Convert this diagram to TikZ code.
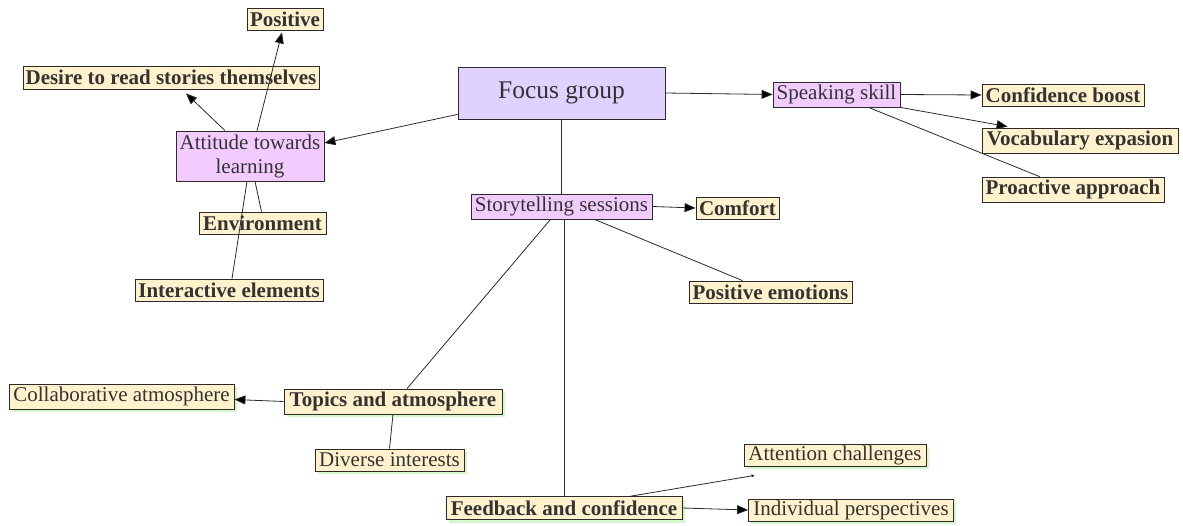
\documentclass[tikz,border=0pt]{standalone}
\usepackage{fontspec}
\setmainfont{Liberation Serif}
\usetikzlibrary{arrows.meta,shadows,calc}
\definecolor{yfill}{HTML}{FFF2CC}
\definecolor{pfill}{HTML}{F2CCFF}
\definecolor{lfill}{HTML}{E0D2FF}
\definecolor{txt}{HTML}{333333}
\definecolor{ln}{HTML}{2A2A2A}
\definecolor{gshadow}{HTML}{D4F7CC}
\begin{document}
\begin{tikzpicture}[x=1pt,y=-1pt,
  box/.style={draw=ln,line width=0.8pt,rectangle,inner sep=1pt,text=txt,
    font=\fontsize{21}{23}\selectfont,align=center},
  ybox/.style={box,fill=yfill},
  bbox/.style={ybox,font=\fontsize{21}{23}\selectfont\bfseries},
  pbox/.style={box,fill=pfill},
  gsh/.style={drop shadow={fill=gshadow,opacity=1,shadow xshift=2.5pt,shadow yshift=-3pt}},
  con/.style={draw=ln,line width=0.8pt},
  arr/.style={con,-{Triangle[length=11pt,width=9pt,fill=black]}},
  sz/.style 2 args={minimum width=#1pt,minimum height=#2pt}]
\useasboundingbox (0,0) rectangle (1183,525);

% nodes
\node[bbox,sz={76}{22}] (pos) at (285,19) {Positive};
\node[bbox,sz={296}{23}] (des) at (171,77.5) {Desire to read stories themselves};
\node[pbox,sz={148}{50},font=\fontsize{21}{24}\selectfont] (att) at (250,156) {Attitude towards\\learning};
\node[bbox,sz={127}{22}] (env) at (262.5,223) {Environment};
\node[bbox,sz={188}{22}] (inter) at (229,290) {Interactive elements};
\node[box,fill=lfill,sz={207}{52},font=\fontsize{25.5}{28}\selectfont] (fg) at (561.5,93) {Focus group};
\node[pbox,sz={127}{25}] (sp) at (836.5,94.5) {Speaking skill};
\node[bbox,sz={162}{22}] (cb) at (1063,95) {Confidence boost};
\node[bbox,sz={196}{25}] (voc) at (1080,140.5) {Vocabulary expasion};
\node[bbox,sz={182}{25}] (pro) at (1073,189.5) {Proactive approach};
\node[pbox,sz={181}{25}] (st) at (561.5,206.5) {Storytelling sessions};
\node[bbox,sz={83}{22}] (com) at (737.5,208) {Comfort};
\node[bbox,sz={163}{22}] (pe) at (770.5,292) {Positive emotions};
\node[ybox,gsh,sz={225}{25}] (col) at (121.5,396.5) {Collaborative atmosphere};
\node[bbox,gsh,sz={218}{25}] (top) at (393,401.5) {Topics and atmosphere};
\node[ybox,gsh,sz={149}{22}] (div) at (389.5,460) {Diverse interests};
\node[bbox,gsh,sz={236}{23}] (fb) at (564,508) {Feedback and confidence};
\node[ybox,gsh,sz={182}{22}] (attn) at (835,455) {Attention challenges};
\node[ybox,gsh,sz={205}{22}] (ind) at (851,510) {Individual perspectives};
\coordinate (attnend) at ($(attn.south west)+(11,9)$);

% connectors
\draw[arr] ([yshift=5pt]fg.south west) -- ([yshift=13pt]att.east);
\draw[arr] ([xshift=-25pt]att.north) -- ([xshift=15pt,yshift=-4pt]des.south);
\draw[arr] ([xshift=7pt]att.north) -- ([xshift=-3pt,yshift=-2pt]pos.south);
\draw[con] ([xshift=5pt]att.south) -- ([xshift=-1pt]env.north);
\draw[con] ([xshift=-3pt]att.south) -- ([xshift=3pt]inter.north);
\draw[con] (fg.south) -- (st.north);
\draw[arr] (fg.east) -- (sp.west);
\draw[arr] (sp.east) -- (cb.west);
\draw[arr] (sp.south east) -- ([xshift=26pt,yshift=1pt]voc.north west);
\draw[con] ([xshift=32pt]sp.south) -- ([xshift=58pt]pro.north west);
\draw[arr] (st.east) -- (com.west);
\draw[con] ([xshift=33pt]st.south) -- ([xshift=-28pt]pe.north);
\draw[con] ([xshift=-11pt]st.south) -- ([xshift=14pt]top.north);
\draw[con] (fb.north |- st.south) -- (fb.north);
\draw[arr] (top.west) -- ([yshift=-3pt]col.east);
\draw[con] (top.south) -- (div.north);
\draw[con,-{Triangle[length=3pt,width=3pt,fill=black]}] ([xshift=67pt]fb.north) -- (attnend);
\draw[arr] (fb.east) -- (ind.west);
\end{tikzpicture}
\end{document}
